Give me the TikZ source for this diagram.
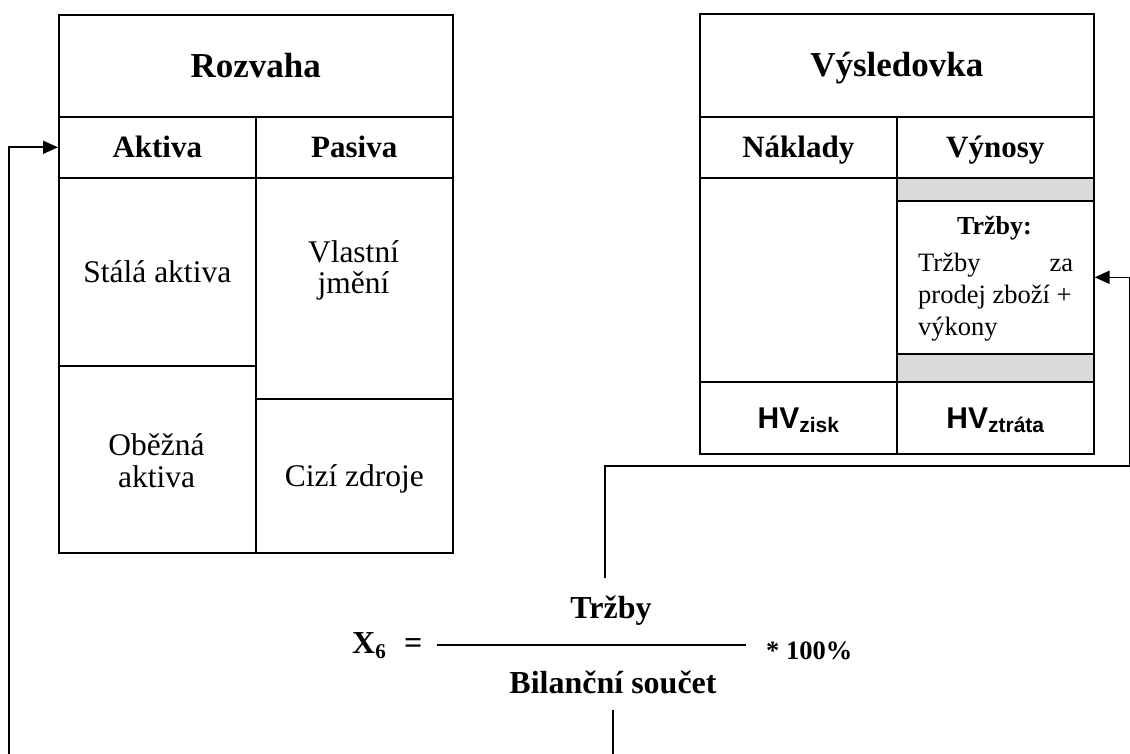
\documentclass[tikz,border=0pt]{standalone}
\usepackage{fontspec}
\setmainfont{Liberation Serif}
\newfontfamily\hvfont{Liberation Sans}
\usetikzlibrary{arrows.meta}
\definecolor{bandgray}{RGB}{217,217,217}
\newcommand{\setfs}[1]{\fontsize{#1}{#1}\selectfont}
\tikzset{
  cell/.style={draw, line width=1.6pt, rectangle, inner sep=0pt, anchor=north west},
  capline/.style={text height=#1, text depth=0pt},
  band/.style={cell, fill=bandgray},
  txt/.style={inner sep=0pt, anchor=base},
  link/.style={line width=1.6pt},
  linkarrow/.style={link, -{Triangle[length=15pt,width=13pt]}},
  titlefont/.style={font=\bfseries\setfs{35}, capline=23pt},
  headfont/.style={font=\bfseries\setfs{31}, capline=20.5pt},
  bodyfont/.style={font=\setfs{31.5}},
  formfont/.style={font=\bfseries\setfs{32}},
  hvstyle/.style={font=\hvfont\bfseries\setfs{30}, capline=21.5pt},
}
\newcommand{\hvsub}[1]{HV\raisebox{-4pt}{\setfs{21}#1}}
\begin{document}
\begin{tikzpicture}[x=1pt,y=-1pt]
\clip (0,0) rectangle (1130,754);

% ---- Rozvaha (balance sheet) ----
\node[cell, titlefont, minimum width=394pt, minimum height=102pt] (rozTitle) at (58,14) {Rozvaha};
\node[cell, headfont, minimum width=197pt, minimum height=61pt] (rozA) at (58,116) {Aktiva};
\node[cell, headfont, minimum width=197pt, minimum height=61pt] (rozP) at (255,116) {Pasiva};
\node[cell, bodyfont, capline=21pt, minimum width=197pt, minimum height=188pt] (stala) at (58,177) {Stálá aktiva};
\node[cell, minimum width=197pt, minimum height=187pt] (obezna) at (58,365) {};
\node[cell, minimum width=197pt, minimum height=221pt] (vlastni) at (255,177) {};
\node[cell, bodyfont, capline=21pt, minimum width=197pt, minimum height=154pt] (cizi) at (255,398) {Cizí zdroje};
\node[txt, bodyfont] (obeznaA) at (156.5,455) {Oběžná};
\node[txt, bodyfont] (obeznaB) at (156.5,487) {aktiva};
\node[txt, bodyfont] (vlastniA) at (353.5,262) {Vlastní};
\node[txt, bodyfont] (vlastniB) at (353.5,294) {jmění};

% ---- Výsledovka (income statement) ----
\node[cell, titlefont, minimum width=394pt, minimum height=103pt] (vysTitle) at (699,13) {Výsledovka};
\node[cell, headfont, minimum width=197pt, minimum height=61pt] (nakl) at (699,116) {Náklady};
\node[cell, headfont, minimum width=197pt, minimum height=61pt] (vyn) at (896,116) {Výnosy};
\node[cell, minimum width=197pt, minimum height=204pt] (naklBody) at (699,177) {};
\node[band, minimum width=197pt, minimum height=23pt] (bandTop) at (896,177) {};
\node[cell, minimum width=197pt, minimum height=153pt] (trzbyBox) at (896,200) {};
\node[band, minimum width=197pt, minimum height=28pt] (bandBot) at (896,353) {};
\node[cell, hvstyle, minimum width=197pt, minimum height=72pt] (hvZisk) at (699,381) {\hvsub{zisk}};
\node[cell, hvstyle, minimum width=197pt, minimum height=72pt] (hvZtrata) at (896,381) {\hvsub{ztráta}};

% revenue item text
\node[txt, font=\bfseries\setfs{26}] (trzbyHead) at (994.5,235) {Tržby:};
\node[txt, anchor=base west, font=\setfs{26.5}] (trzbyL1) at (918,271) {\hbox to 155pt{Tržby\hfill za}};
\node[txt, anchor=base west, font=\setfs{26.5}] (trzbyL2) at (918,303) {prodej zboží +};
\node[txt, anchor=base west, font=\setfs{26.5}] (trzbyL3) at (918,335) {výkony};

% ---- ratio X6 ----
\node[txt, anchor=base west, formfont] (x6) at (352,653) {X\raisebox{-5pt}{\setfs{21}6}};
\node[txt, anchor=base west, formfont] (eq) at (404,653) {=};
\coordinate (barL) at (437,645);
\coordinate (barR) at (746,645);
\draw[link] (barL) -- (barR);
\node[txt, formfont] (num) at (611,618) {Tržby};
\node[txt, formfont] (den) at (613,693) {Bilanční součet};
\node[txt, anchor=base west, font=\bfseries\setfs{26.5}] (pct) at (766,659) {* 100\%};

% ---- connectors ----
\coordinate (numTop) at (605,578);
\coordinate (rTurn) at (1129.3,466);
\draw[linkarrow] (numTop) |- (rTurn) |- (trzbyBox.east);

\coordinate (denBot) at (613,710);
\coordinate (lTurn) at (9,764);
\draw[linkarrow] (denBot) |- (lTurn) |- (rozA.west);
\end{tikzpicture}
\end{document}
